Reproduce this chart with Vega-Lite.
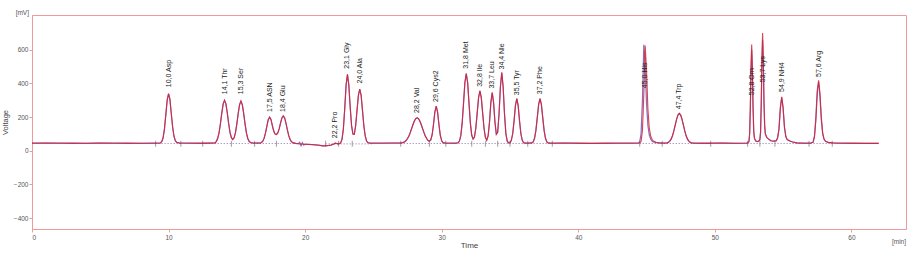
{
  "$schema": "https://vega.github.io/schema/vega-lite/v6.json",
  "width": 874,
  "height": 214,
  "autosize": "none",
  "padding": {"left": 32, "top": 15, "right": 14, "bottom": 26},
  "background": "white",
  "config": {
    "font": "Liberation Sans",
    "view": {"stroke": "#ee9a9a", "strokeWidth": 1},
    "axis": {"grid": false, "domainColor": "#ee9a9a", "tickColor": "#ee9a9a", "tickSize": 3, "labelColor": "#555555", "labelFontSize": 6.5, "labelFont": "Liberation Sans", "titleFont": "Liberation Sans", "titleFontWeight": "normal", "titleColor": "#444444"}
  },
  "datasets": {
    "trace": [
      {"t":0,"r":45,"b":45},{"t":1,"r":46,"b":45},{"t":2,"r":45,"b":46},{"t":3,"r":44,"b":45},{"t":4,"r":45,"b":44},{"t":5,"r":46,"b":45},{"t":6,"r":45,"b":46},{"t":7,"r":44,"b":45},{"t":8,"r":45,"b":44},{"t":9,"r":45,"b":45},{"t":9.4,"r":46,"b":46},
      {"t":9.5,"r":54,"b":54},{"t":9.6,"r":77,"b":77},{"t":9.7,"r":130,"b":130},{"t":9.8,"r":215,"b":215},{"t":9.9,"r":302,"b":302},{"t":10.0,"r":340,"b":338},{"t":10.1,"r":305,"b":305},{"t":10.2,"r":220,"b":220},{"t":10.3,"r":140,"b":140},{"t":10.4,"r":85,"b":85},{"t":10.5,"r":59,"b":59},{"t":10.6,"r":50,"b":50},{"t":10.8,"r":46,"b":46},{"t":11.5,"r":45,"b":45},{"t":12.5,"r":44,"b":45},
      {"t":13.4,"r":47,"b":47},{"t":13.5,"r":56,"b":56},{"t":13.6,"r":74,"b":74},{"t":13.7,"r":108,"b":108},{"t":13.8,"r":162,"b":162},{"t":13.9,"r":225,"b":225},{"t":14.0,"r":279,"b":279},{"t":14.1,"r":300,"b":300},{"t":14.2,"r":279,"b":279},{"t":14.3,"r":225,"b":225},{"t":14.4,"r":162,"b":162},{"t":14.5,"r":109,"b":109},{"t":14.6,"r":78,"b":78},{"t":14.7,"r":67,"b":67},{"t":14.8,"r":77,"b":77},{"t":14.9,"r":108,"b":108},{"t":15.0,"r":160,"b":160},{"t":15.1,"r":222,"b":222},{"t":15.2,"r":274,"b":274},{"t":15.3,"r":295,"b":295},{"t":15.4,"r":274,"b":274},{"t":15.5,"r":222,"b":222},{"t":15.6,"r":160,"b":160},{"t":15.7,"r":107,"b":107},{"t":15.8,"r":73,"b":73},{"t":15.9,"r":56,"b":56},{"t":16.0,"r":49,"b":49},{"t":16.2,"r":46,"b":46},
      {"t":16.7,"r":46,"b":46},{"t":16.8,"r":49,"b":49},{"t":16.9,"r":57,"b":57},{"t":17.0,"r":75,"b":75},{"t":17.1,"r":106,"b":106},{"t":17.2,"r":147,"b":147},{"t":17.3,"r":185,"b":185},{"t":17.4,"r":200,"b":200},{"t":17.5,"r":186,"b":186},{"t":17.6,"r":150,"b":150},{"t":17.7,"r":117,"b":117},{"t":17.8,"r":100,"b":100},{"t":17.9,"r":96,"b":96},{"t":18.0,"r":106,"b":106},{"t":18.1,"r":130,"b":130},{"t":18.2,"r":165,"b":165},{"t":18.3,"r":195,"b":195},{"t":18.4,"r":207,"b":207},{"t":18.5,"r":195,"b":195},{"t":18.6,"r":163,"b":163},{"t":18.7,"r":124,"b":124},{"t":18.8,"r":90,"b":90},{"t":18.9,"r":67,"b":67},{"t":19.0,"r":54,"b":54},{"t":19.1,"r":48,"b":48},{"t":19.3,"r":44,"b":44},
      {"t":19.5,"r":42,"b":42},{"t":19.6,"r":41,"b":50},{"t":19.7,"r":40,"b":30},{"t":19.8,"r":40,"b":48},{"t":19.9,"r":39,"b":33},{"t":20.0,"r":39,"b":39},{"t":20.5,"r":37,"b":37},{"t":21.0,"r":33,"b":33},{"t":21.3,"r":29,"b":29},{"t":21.6,"r":30,"b":30},{"t":21.9,"r":34,"b":34},{"t":22.1,"r":40,"b":40},{"t":22.2,"r":45,"b":45},{"t":22.3,"r":43,"b":43},{"t":22.4,"r":41,"b":41},{"t":22.5,"r":42,"b":42},
      {"t":22.6,"r":47,"b":47},{"t":22.7,"r":68,"b":68},{"t":22.8,"r":129,"b":129},{"t":22.9,"r":249,"b":249},{"t":23.0,"r":390,"b":390},{"t":23.1,"r":456,"b":452},{"t":23.2,"r":390,"b":390},{"t":23.3,"r":260,"b":260},{"t":23.4,"r":150,"b":150},{"t":23.5,"r":100,"b":100},{"t":23.6,"r":98,"b":98},{"t":23.7,"r":149,"b":149},{"t":23.8,"r":239,"b":239},{"t":23.9,"r":329,"b":329},{"t":24.0,"r":367,"b":367},{"t":24.1,"r":330,"b":330},{"t":24.2,"r":240,"b":240},{"t":24.3,"r":149,"b":149},{"t":24.4,"r":88,"b":88},{"t":24.5,"r":58,"b":58},{"t":24.6,"r":48,"b":48},{"t":24.8,"r":45,"b":45},{"t":25.5,"r":45,"b":45},{"t":26.5,"r":46,"b":46},
      {"t":27.0,"r":46,"b":46},{"t":27.2,"r":50,"b":50},{"t":27.3,"r":54,"b":54},{"t":27.4,"r":61,"b":61},{"t":27.5,"r":73,"b":73},{"t":27.6,"r":88,"b":88},{"t":27.7,"r":109,"b":109},{"t":27.8,"r":132,"b":132},{"t":27.9,"r":156,"b":156},{"t":28.0,"r":177,"b":177},{"t":28.1,"r":191,"b":191},{"t":28.2,"r":196,"b":196},{"t":28.3,"r":191,"b":191},{"t":28.4,"r":177,"b":177},{"t":28.5,"r":156,"b":156},{"t":28.6,"r":132,"b":132},{"t":28.7,"r":109,"b":109},{"t":28.8,"r":88,"b":88},{"t":28.9,"r":73,"b":73},{"t":29.0,"r":61,"b":61},{"t":29.1,"r":57,"b":57},{"t":29.2,"r":64,"b":64},{"t":29.3,"r":94,"b":94},{"t":29.4,"r":156,"b":156},{"t":29.5,"r":230,"b":230},{"t":29.6,"r":265,"b":265},{"t":29.7,"r":230,"b":230},{"t":29.8,"r":155,"b":155},{"t":29.9,"r":91,"b":91},{"t":30.0,"r":59,"b":59},{"t":30.1,"r":48,"b":48},{"t":30.3,"r":45,"b":45},
      {"t":31.0,"r":45,"b":45},{"t":31.1,"r":46,"b":46},{"t":31.2,"r":48,"b":48},{"t":31.3,"r":58,"b":58},{"t":31.4,"r":90,"b":90},{"t":31.5,"r":164,"b":164},{"t":31.6,"r":283,"b":283},{"t":31.7,"r":406,"b":406},{"t":31.8,"r":459,"b":459},{"t":31.9,"r":406,"b":406},{"t":32.0,"r":283,"b":283},{"t":32.1,"r":164,"b":164},{"t":32.2,"r":92,"b":92},{"t":32.3,"r":70,"b":70},{"t":32.4,"r":82,"b":82},{"t":32.5,"r":135,"b":135},{"t":32.6,"r":224,"b":224},{"t":32.7,"r":316,"b":316},{"t":32.8,"r":356,"b":356},{"t":32.9,"r":316,"b":316},{"t":33.0,"r":224,"b":224},{"t":33.1,"r":134,"b":134},{"t":33.2,"r":80,"b":80},{"t":33.3,"r":63,"b":63},{"t":33.4,"r":88,"b":88},{"t":33.5,"r":169,"b":169},{"t":33.6,"r":286,"b":286},{"t":33.7,"r":346,"b":346},{"t":33.8,"r":286,"b":286},{"t":33.9,"r":171,"b":171},{"t":34.0,"r":98,"b":98},{"t":34.1,"r":110,"b":110},{"t":34.2,"r":219,"b":219},{"t":34.3,"r":381,"b":381},{"t":34.4,"r":465,"b":465},{"t":34.5,"r":381,"b":381},{"t":34.6,"r":218,"b":218},{"t":34.7,"r":102,"b":102},{"t":34.8,"r":57,"b":57},{"t":34.9,"r":47,"b":47},
      {"t":35.0,"r":48,"b":48},{"t":35.1,"r":62,"b":62},{"t":35.2,"r":101,"b":101},{"t":35.3,"r":178,"b":178},{"t":35.4,"r":268,"b":268},{"t":35.5,"r":310,"b":310},{"t":35.6,"r":268,"b":268},{"t":35.7,"r":178,"b":178},{"t":35.8,"r":101,"b":101},{"t":35.9,"r":62,"b":62},{"t":36.0,"r":48,"b":48},{"t":36.2,"r":45,"b":45},
      {"t":36.6,"r":47,"b":47},{"t":36.7,"r":53,"b":53},{"t":36.8,"r":74,"b":74},{"t":36.9,"r":121,"b":121},{"t":37.0,"r":197,"b":197},{"t":37.1,"r":276,"b":276},{"t":37.2,"r":310,"b":310},{"t":37.3,"r":276,"b":276},{"t":37.4,"r":197,"b":197},{"t":37.5,"r":121,"b":121},{"t":37.6,"r":74,"b":74},{"t":37.7,"r":53,"b":53},{"t":37.8,"r":47,"b":47},{"t":38.0,"r":45,"b":45},
      {"t":39.0,"r":46,"b":45},{"t":40.0,"r":44,"b":45},{"t":41.0,"r":45,"b":44},{"t":42.0,"r":44,"b":45},{"t":43.0,"r":45,"b":45},{"t":44.0,"r":45,"b":45},{"t":44.4,"r":45,"b":46},
      {"t":44.5,"r":46,"b":52},{"t":44.6,"r":55,"b":100},{"t":44.7,"r":120,"b":300},{"t":44.8,"r":330,"b":630},{"t":44.9,"r":626,"b":520},{"t":45.0,"r":480,"b":280},{"t":45.1,"r":250,"b":150},{"t":45.2,"r":135,"b":95},{"t":45.3,"r":88,"b":70},{"t":45.4,"r":68,"b":58},{"t":45.5,"r":58,"b":52},{"t":45.7,"r":51,"b":48},{"t":46.0,"r":46,"b":46},
      {"t":46.4,"r":46,"b":46},{"t":46.5,"r":47,"b":47},{"t":46.6,"r":50,"b":50},{"t":46.7,"r":57,"b":57},{"t":46.8,"r":69,"b":69},{"t":46.9,"r":89,"b":89},{"t":47.0,"r":118,"b":118},{"t":47.1,"r":152,"b":152},{"t":47.2,"r":187,"b":187},{"t":47.3,"r":212,"b":212},{"t":47.4,"r":222,"b":222},{"t":47.5,"r":212,"b":212},{"t":47.6,"r":187,"b":187},{"t":47.7,"r":152,"b":152},{"t":47.8,"r":118,"b":118},{"t":47.9,"r":89,"b":89},{"t":48.0,"r":69,"b":69},{"t":48.1,"r":57,"b":57},{"t":48.2,"r":50,"b":50},{"t":48.3,"r":47,"b":47},{"t":48.5,"r":45,"b":45},
      {"t":49.5,"r":44,"b":45},{"t":50.5,"r":46,"b":45},{"t":51.5,"r":45,"b":44},{"t":52.3,"r":45,"b":45},{"t":52.4,"r":46,"b":46},
      {"t":52.5,"r":55,"b":55},{"t":52.55,"r":104,"b":100},{"t":52.6,"r":256,"b":240},{"t":52.65,"r":500,"b":470},{"t":52.7,"r":632,"b":600},{"t":52.75,"r":500,"b":470},{"t":52.8,"r":270,"b":250},{"t":52.85,"r":120,"b":115},{"t":52.9,"r":75,"b":75},{"t":53.0,"r":58,"b":58},{"t":53.1,"r":55,"b":55},{"t":53.2,"r":57,"b":57},{"t":53.3,"r":66,"b":66},
      {"t":53.35,"r":115,"b":110},{"t":53.4,"r":285,"b":270},{"t":53.45,"r":555,"b":520},{"t":53.5,"r":700,"b":660},{"t":53.55,"r":555,"b":520},{"t":53.6,"r":300,"b":290},{"t":53.65,"r":150,"b":150},{"t":53.7,"r":100,"b":100},{"t":53.8,"r":80,"b":80},{"t":53.9,"r":72,"b":72},{"t":54.0,"r":66,"b":66},{"t":54.1,"r":60,"b":60},{"t":54.2,"r":58,"b":58},{"t":54.3,"r":57,"b":57},
      {"t":54.5,"r":60,"b":60},{"t":54.6,"r":77,"b":77},{"t":54.7,"r":130,"b":130},{"t":54.8,"r":255,"b":255},{"t":54.9,"r":320,"b":318},{"t":55.0,"r":255,"b":255},{"t":55.1,"r":140,"b":140},{"t":55.2,"r":85,"b":85},{"t":55.3,"r":66,"b":66},{"t":55.4,"r":62,"b":62},{"t":55.5,"r":58,"b":58},{"t":55.7,"r":52,"b":52},{"t":56.0,"r":47,"b":47},{"t":56.5,"r":45,"b":45},
      {"t":57.0,"r":45,"b":45},{"t":57.2,"r":51,"b":52},{"t":57.3,"r":82,"b":90},{"t":57.4,"r":180,"b":200},{"t":57.5,"r":335,"b":360},{"t":57.6,"r":419,"b":410},{"t":57.7,"r":345,"b":320},{"t":57.8,"r":200,"b":180},{"t":57.9,"r":105,"b":100},{"t":58.0,"r":70,"b":68},{"t":58.1,"r":57,"b":57},{"t":58.3,"r":50,"b":50},{"t":58.6,"r":47,"b":47},{"t":59.0,"r":45,"b":45},{"t":60.0,"r":44,"b":45},{"t":61.0,"r":45,"b":44},{"t":62.0,"r":44,"b":44}
    ],
    "segments": [
      {"t1":9.05,"t2":10.9,"y":43},{"t1":12.5,"t2":19.3,"y":43},{"t1":21.5,"t2":25.0,"y":41},{"t1":27.0,"t2":30.3,"y":43},{"t1":30.8,"t2":38.1,"y":43},{"t1":44.5,"t2":49.7,"y":43},{"t1":52.4,"t2":58.6,"y":43}
    ],
    "ticks": [
      {"t":9.05},{"t":10.9},{"t":12.5},{"t":14.6},{"t":16.3},{"t":17.9},{"t":21.5},{"t":22.45},{"t":23.45},{"t":27.0},{"t":29.1},{"t":30.3},{"t":32.2},{"t":33.2},{"t":34.1},{"t":35.0},{"t":36.3},{"t":38.1},{"t":44.5},{"t":46.15},{"t":49.7},{"t":52.4},{"t":53.3},{"t":54.4},{"t":56.9},{"t":58.6}
    ],
    "labels": [
      {"t":10.0,"ly":378,"txt":"10,0 Asp"},{"t":14.1,"ly":336,"txt":"14,1 Thr"},{"t":15.3,"ly":336,"txt":"15,3 Ser"},{"t":17.4,"ly":231,"txt":"17,5 ASN"},{"t":18.4,"ly":231,"txt":"18,4 Glu"},{"t":22.2,"ly":75,"txt":"22,2 Pro"},{"t":23.1,"ly":488,"txt":"23,1 Gly"},{"t":24.0,"ly":400,"txt":"24,0 Ala"},{"t":28.2,"ly":225,"txt":"28,2 Val"},{"t":29.6,"ly":290,"txt":"29,6 Cys2"},{"t":31.8,"ly":488,"txt":"31,8 Met"},{"t":32.8,"ly":380,"txt":"32,8 Ile"},{"t":33.7,"ly":370,"txt":"33,7 Leu"},{"t":34.4,"ly":483,"txt":"34,4 Nle"},{"t":35.5,"ly":330,"txt":"35,5 Tyr"},{"t":37.2,"ly":336,"txt":"37,2 Phe"},{"t":44.9,"ly":372,"txt":"45,0 His"},{"t":47.4,"ly":247,"txt":"47,4 Trp"},{"t":52.7,"ly":330,"txt":"52,8 Orn"},{"t":53.55,"ly":407,"txt":"53,7 Lys"},{"t":54.9,"ly":350,"txt":"54,9 NH4"},{"t":57.6,"ly":439,"txt":"57,6 Arg"}
    ]
  },
  "layer": [
    {
      "data": {"name": "segments"},
      "mark": {"type": "rule", "strokeDash": [1, 2], "color": "#8a6fb5", "strokeWidth": 1},
      "encoding": {
        "x": {"field": "t1", "type": "quantitative", "scale": {"domain": [0, 64], "nice": false, "zero": false}, "title": "Time", "axis": {"values": [0, 10, 20, 30, 40, 50, 60], "labelPadding": 2, "titlePadding": 1, "titleFontSize": 8}},
        "x2": {"field": "t2"},
        "y": {"field": "y", "type": "quantitative", "scale": {"domain": [-465, 807], "nice": false, "zero": false}, "title": "Voltage", "axis": {"values": [-400, -200, 0, 200, 400, 600], "labelPadding": 1, "titlePadding": 4, "titleFontSize": 7.5}}
      }
    },
    {
      "data": {"name": "ticks"},
      "mark": {"type": "tick", "orient": "vertical", "size": 6, "thickness": 1, "color": "#777777"},
      "encoding": {
        "x": {"field": "t", "type": "quantitative", "title": "Time"},
        "y": {"datum": 41, "type": "quantitative", "title": "Voltage"}
      }
    },
    {
      "data": {"name": "trace"},
      "mark": {"type": "line", "color": "#5a3fb0", "strokeWidth": 1.2, "opacity": 0.75},
      "encoding": {
        "x": {"field": "t", "type": "quantitative", "title": "Time"},
        "y": {"field": "b", "type": "quantitative", "title": "Voltage"}
      }
    },
    {
      "data": {"name": "trace"},
      "mark": {"type": "line", "color": "#d8202e", "strokeWidth": 1.1, "opacity": 0.85},
      "encoding": {
        "x": {"field": "t", "type": "quantitative", "title": "Time"},
        "y": {"field": "r", "type": "quantitative", "title": "Voltage"}
      }
    },
    {
      "data": {"name": "labels"},
      "mark": {"type": "text", "angle": 270, "align": "left", "baseline": "middle", "fontSize": 7, "font": "Liberation Sans", "color": "#222222"},
      "encoding": {
        "x": {"field": "t", "type": "quantitative", "title": "Time"},
        "y": {"field": "ly", "type": "quantitative", "title": "Voltage"},
        "text": {"field": "txt"}
      }
    },
    {
      "data": {"values": [{"u": "[mV]"}]},
      "mark": {"type": "text", "align": "right", "baseline": "bottom", "fontSize": 6.5, "color": "#555555", "dx": -3, "dy": 1},
      "encoding": {
        "x": {"datum": 0, "type": "quantitative", "title": "Time"},
        "y": {"datum": 807, "type": "quantitative", "title": "Voltage"},
        "text": {"field": "u"}
      }
    },
    {
      "data": {"values": [{"u": "[min]"}]},
      "mark": {"type": "text", "align": "right", "baseline": "middle", "fontSize": 6.5, "color": "#555555", "dy": 12.5},
      "encoding": {
        "x": {"datum": 64, "type": "quantitative", "title": "Time"},
        "y": {"datum": -465, "type": "quantitative", "title": "Voltage"},
        "text": {"field": "u"}
      }
    }
  ]
}
